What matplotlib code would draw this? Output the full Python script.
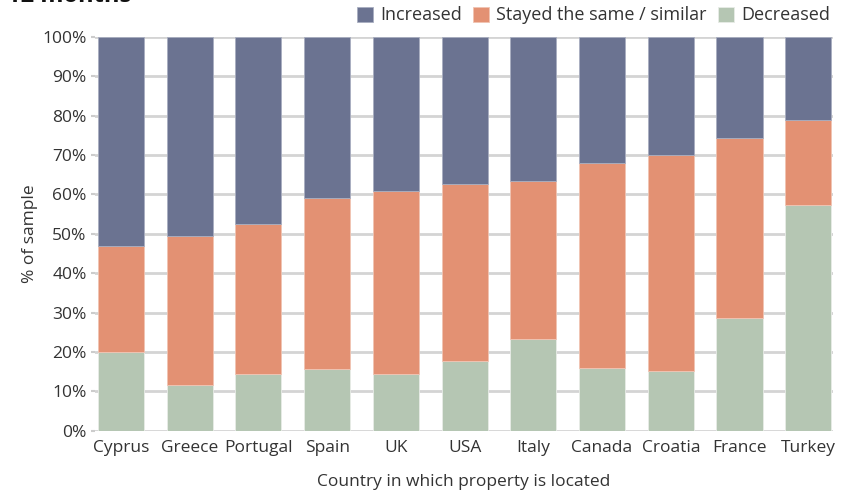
import matplotlib.pyplot as plt
import numpy as np

# data (percent of sample)
countries = ["Cyprus", "Greece", "Portugal", "Spain", "UK", "USA",
             "Italy", "Canada", "Croatia", "France", "Turkey"]
decreased = [20.0, 11.5, 14.5, 15.7, 14.5, 17.8, 23.4, 16.0, 15.2, 28.7, 57.3]
stayed_top = [46.8, 49.5, 52.4, 59.1, 60.9, 62.7, 63.5, 68.0, 69.9, 74.4, 78.9]

stayed = [t - d for t, d in zip(stayed_top, decreased)]
increased = [100 - t for t in stayed_top]

c_inc = "#6b7391"
c_same = "#e39173"
c_dec = "#b5c6b3"
txt = "#333333"

plt.rcParams['font.family'] = ['Open Sans', 'DejaVu Sans']
fs = 12.5

fig = plt.figure(figsize=(8.59, 4.91), dpi=100)
ax = fig.add_axes([0.1106, 0.123, 0.8591, 0.8016])

x = np.arange(len(countries))
w = 0.67
ax.bar(x, decreased, w, color=c_dec, edgecolor="#e8ece7", linewidth=0.6,
       label="Decreased", zorder=3)
ax.bar(x, stayed, w, bottom=decreased, color=c_same, edgecolor="#f0c4b3",
       linewidth=0.6, label="Stayed the same / similar", zorder=3)
ax.bar(x, increased, w, bottom=stayed_top, color=c_inc, edgecolor="#a9aec0",
       linewidth=0.6, label="Increased", zorder=3)

ax.set_xlim(-0.378, 10.36)
ax.set_ylim(0, 100)
ax.set_yticks(np.arange(0, 101, 10))
ax.set_yticklabels([f"{v}%" for v in range(0, 101, 10)], fontsize=fs, color=txt)
ax.set_xticks(x)
ax.set_xticklabels(countries, fontsize=fs, color=txt)
ax.tick_params(axis="x", length=0, pad=7)
ax.tick_params(axis="y", length=3, color="#cccccc", width=1.5, pad=3)

ax.yaxis.grid(True, color="#d4d4d4", linewidth=2, zorder=0)
for s in ax.spines.values():
    s.set_visible(False)

ax.set_ylabel("% of sample", fontsize=fs, color=txt, labelpad=3)
ax.set_xlabel("Country in which property is located", fontsize=fs,
              color=txt, labelpad=13)

h, l = ax.get_legend_handles_labels()
leg = fig.legend(h[::-1], l[::-1], loc="upper right", bbox_to_anchor=(0.985, 1.02),
                 ncol=3, frameon=False, fontsize=13, handlelength=0.9,
                 handleheight=0.9, handletextpad=0.4, columnspacing=0.6)
for t in leg.get_texts():
    t.set_color(txt)

# title cut off at the top of the image, as in the source
fig.text(0.008, 0.995, "12 months", fontsize=17, fontweight="bold",
         color="#111111", va="baseline")

fig.savefig("out.png", dpi=100)
